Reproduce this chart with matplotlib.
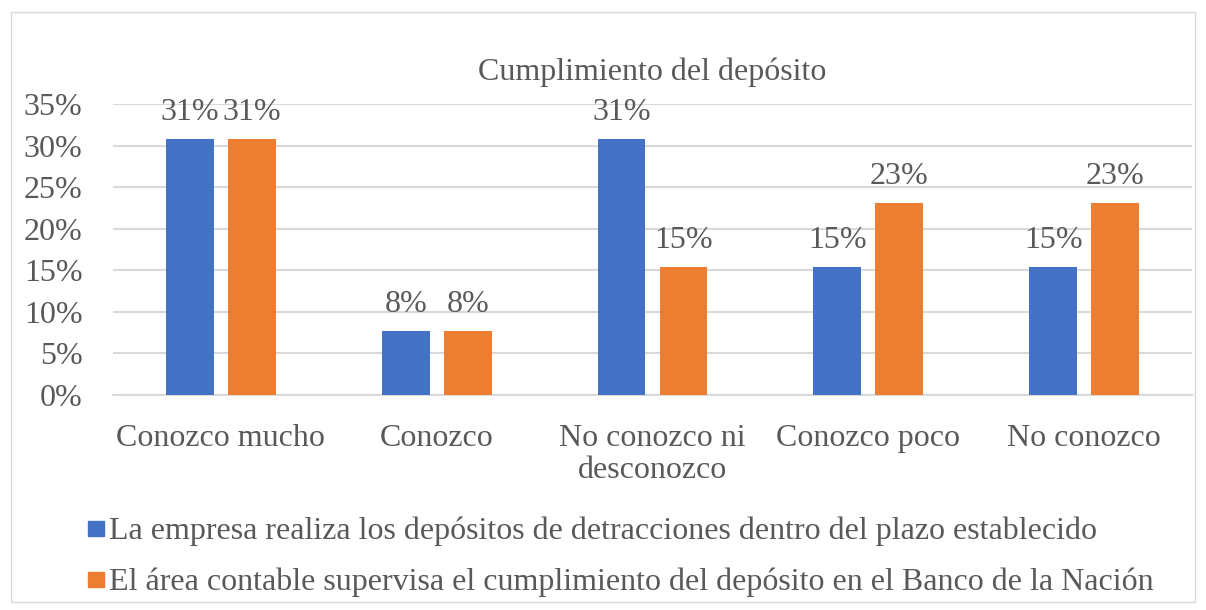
import numpy as np
import matplotlib.pyplot as plt
from matplotlib.patches import Rectangle

categories = ["Conozco mucho", "Conozco", "No conozco ni\ndesconozco", "Conozco poco", "No conozco"]
serie_a = [30.77, 7.69, 30.77, 15.38, 15.38]
serie_b = [30.77, 7.69, 15.38, 23.08, 23.08]
label_a = "La empresa realiza los depósitos de detracciones dentro del plazo establecido"
label_b = "El área contable supervisa el cumplimiento del depósito en el Banco de la Nación"
title = "Cumplimiento del depósito"

BLUE = "#4472C4"
ORANGE = "#ED7D31"
TXT = "#595959"
plt.rcParams['font.family'] = ['Liberation Serif', 'DejaVu Serif']

fig = plt.figure(figsize=(12.06, 6.10), dpi=100)
W, H = 1206, 610
ax = fig.add_axes([113/W, 1-395/H, (1192-113)/W, (395-104)/H])

x = np.arange(len(categories))
bw = 0.222
off = 0.1435
b1 = ax.bar(x - off, serie_a, bw, color=BLUE, zorder=3)
b2 = ax.bar(x + off, serie_b, bw, color=ORANGE, zorder=3)
for bars, vals in ((b1, serie_a), (b2, serie_b)):
    for r, v in zip(bars, vals):
        ax.text(r.get_x() + r.get_width()/2, v + 1.5, f"{v:.0f}%", ha="center", va="bottom",
                fontsize=23, color=TXT)

ax.set_xlim(-0.5, len(categories) - 0.5)
ax.set_ylim(0, 35)
ax.set_yticks(np.arange(0, 36, 5))
ax.set_yticklabels([f"{t}%" for t in range(0, 36, 5)])
ax.set_xticks(x)
ax.set_xticklabels(categories, linespacing=1.14)
ax.tick_params(axis="both", length=0, labelsize=23, colors=TXT)
ax.tick_params(axis="x", pad=21)
ax.tick_params(axis="y", pad=22)
ax.grid(axis="y", color="#D9D9D9", lw=1.5, zorder=0)
for s in ("top", "right", "left"):
    ax.spines[s].set_visible(False)
ax.spines["bottom"].set_color("#D9D9D9")
ax.spines["bottom"].set_linewidth(1.5)

fig.text((113+1192)/2/W, 1-72/H, title, ha="center", va="center", fontsize=23, color=TXT)

# legend
for i, (lab, col) in enumerate(((label_a, BLUE), (label_b, ORANGE))):
    yc = 1 - (528.5 + i*51)/H
    fig.patches.append(Rectangle((88/W, yc - 7.5/H), 16/W, 15/H, color=col, transform=fig.transFigure))
    fig.text(109/W, 1 - (539 + i*51)/H, lab, ha="left", va="baseline", fontsize=23, color=TXT)

fig.patches.append(Rectangle((11/W, 1-602/H), 1184/W, 590/H, fill=False, edgecolor="#D9D9D9",
                             lw=1, transform=fig.transFigure))

plt.savefig("out.png", dpi=100)
